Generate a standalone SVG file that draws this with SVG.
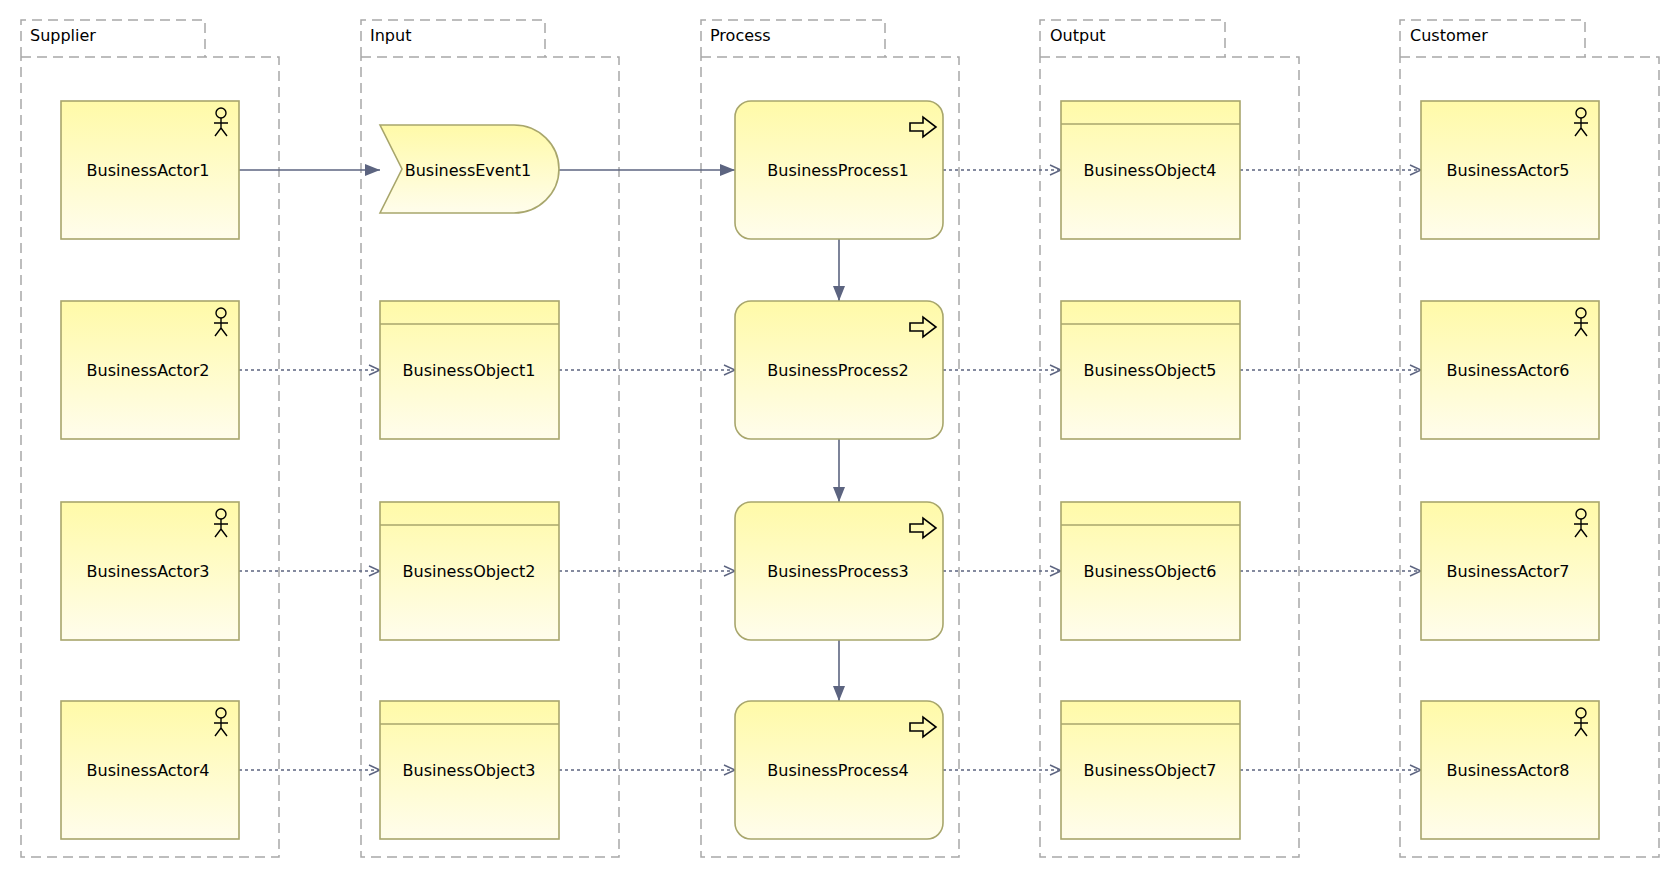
<svg xmlns="http://www.w3.org/2000/svg" width="1680" height="880" viewBox="0 0 1680 880">
<style>
.grp{fill:none;stroke:#a8a8a8;stroke-width:1.5;stroke-dasharray:10,6}
.n{fill:url(#g);stroke:#a8a66c;stroke-width:1.6}
.t{font-family:"Lucida Grande","DejaVu Sans",sans-serif;font-size:16px;fill:#000;text-anchor:middle;dominant-baseline:central}
.gl{font-family:"DejaVu Sans",sans-serif;font-size:16px;fill:#000}
.ic{fill:none;stroke:#000;stroke-width:1.4}
.s{fill:none;stroke:#5c6480;stroke-width:1.6;marker-end:url(#tri)}
.d{fill:none;stroke:#5c6480;stroke-width:1.4;stroke-dasharray:3,3;marker-end:url(#open)}
</style>
<defs>
<linearGradient id="g" x1="0" y1="0" x2="0" y2="1"><stop offset="0" stop-color="#fffaa8"/><stop offset="1" stop-color="#fffdec"/></linearGradient>
<marker id="tri" markerWidth="16" markerHeight="12" refX="15" refY="6" orient="auto" markerUnits="userSpaceOnUse"><path d="M0,0 L15,6 L0,12 Z" fill="#5c6480"/></marker>
<marker id="open" markerWidth="14" markerHeight="12" refX="12" refY="6" orient="auto" markerUnits="userSpaceOnUse"><path d="M1,1 L12,6 L1,11" fill="none" stroke="#5c6480" stroke-width="1.4"/></marker>
<g id="actoricon" class="ic"><circle cx="0" cy="0" r="5"/><path d="M0,5 V15 M-7,10 H7 M-6,23 L0,15 L6,23"/></g>
<g id="procicon" class="ic"><path d="M-27,-4 H-14 V-10 L-1,0 L-14,10 V4 H-27 Z" stroke-width="1.6"/></g>
</defs>
<g id="groups">
<g id="Supplier"><path class="grp" d="M21,57 V20 H205 V57 M21,57 H279 V857 H21 Z"/><text class="gl" x="30" y="41">Supplier</text></g>
<g id="Input"><path class="grp" d="M361,57 V20 H545 V57 M361,57 H619 V857 H361 Z"/><text class="gl" x="370" y="41">Input</text></g>
<g id="Process"><path class="grp" d="M701,57 V20 H885 V57 M701,57 H959 V857 H701 Z"/><text class="gl" x="710" y="41">Process</text></g>
<g id="Output"><path class="grp" d="M1040,57 V20 H1225 V57 M1040,57 H1299 V857 H1040 Z"/><text class="gl" x="1050" y="41">Output</text></g>
<g id="Customer"><path class="grp" d="M1400,57 V20 H1585 V57 M1400,57 H1659 V857 H1400 Z"/><text class="gl" x="1410" y="41">Customer</text></g>
</g>
<g id="connectors">
<path class="s" d="M239,170 H380"/>
<path class="s" d="M559,170 H735"/>
<path class="s" d="M839,239 V301"/>
<path class="s" d="M839,439 V502"/>
<path class="s" d="M839,640 V701"/>
<path class="d" d="M943,170 H1061"/><path class="d" d="M1240,170 H1421"/>
<path class="d" d="M239,370 H380"/><path class="d" d="M559,370 H735"/><path class="d" d="M943,370 H1061"/><path class="d" d="M1240,370 H1421"/>
<path class="d" d="M239,571 H380"/><path class="d" d="M559,571 H735"/><path class="d" d="M943,571 H1061"/><path class="d" d="M1240,571 H1421"/>
<path class="d" d="M239,770 H380"/><path class="d" d="M559,770 H735"/><path class="d" d="M943,770 H1061"/><path class="d" d="M1240,770 H1421"/>
</g>
<g id="BusinessActor1"><rect class="n" x="61" y="101" width="178" height="138"/><use href="#actoricon" x="221" y="113"/><text class="t" x="148" y="170">BusinessActor1</text></g>
<g id="BusinessActor2"><rect class="n" x="61" y="301" width="178" height="138"/><use href="#actoricon" x="221" y="313"/><text class="t" x="148" y="370">BusinessActor2</text></g>
<g id="BusinessActor3"><rect class="n" x="61" y="502" width="178" height="138"/><use href="#actoricon" x="221" y="514"/><text class="t" x="148" y="571">BusinessActor3</text></g>
<g id="BusinessActor4"><rect class="n" x="61" y="701" width="178" height="138"/><use href="#actoricon" x="221" y="713"/><text class="t" x="148" y="770">BusinessActor4</text></g>
<g id="BusinessEvent1"><path class="n" d="M380,125 H514 A45,44 0 0 1 514,213 H380 L402,169 Z"/><text class="t" x="468" y="170">BusinessEvent1</text></g>
<g id="BusinessObject1"><rect class="n" x="380" y="301" width="179" height="138"/><line x1="380" y1="324" x2="559" y2="324" stroke="#a8a66c" stroke-width="1.6"/><text class="t" x="469" y="370">BusinessObject1</text></g>
<g id="BusinessObject2"><rect class="n" x="380" y="502" width="179" height="138"/><line x1="380" y1="525" x2="559" y2="525" stroke="#a8a66c" stroke-width="1.6"/><text class="t" x="469" y="571">BusinessObject2</text></g>
<g id="BusinessObject3"><rect class="n" x="380" y="701" width="179" height="138"/><line x1="380" y1="724" x2="559" y2="724" stroke="#a8a66c" stroke-width="1.6"/><text class="t" x="469" y="770">BusinessObject3</text></g>
<g id="BusinessProcess1"><rect class="n" x="735" y="101" width="208" height="138" rx="16"/><use href="#procicon" x="937" y="127"/><text class="t" x="838" y="170">BusinessProcess1</text></g>
<g id="BusinessProcess2"><rect class="n" x="735" y="301" width="208" height="138" rx="16"/><use href="#procicon" x="937" y="327"/><text class="t" x="838" y="370">BusinessProcess2</text></g>
<g id="BusinessProcess3"><rect class="n" x="735" y="502" width="208" height="138" rx="16"/><use href="#procicon" x="937" y="528"/><text class="t" x="838" y="571">BusinessProcess3</text></g>
<g id="BusinessProcess4"><rect class="n" x="735" y="701" width="208" height="138" rx="16"/><use href="#procicon" x="937" y="727"/><text class="t" x="838" y="770">BusinessProcess4</text></g>
<g id="BusinessObject4"><rect class="n" x="1061" y="101" width="179" height="138"/><line x1="1061" y1="124" x2="1240" y2="124" stroke="#a8a66c" stroke-width="1.6"/><text class="t" x="1150" y="170">BusinessObject4</text></g>
<g id="BusinessObject5"><rect class="n" x="1061" y="301" width="179" height="138"/><line x1="1061" y1="324" x2="1240" y2="324" stroke="#a8a66c" stroke-width="1.6"/><text class="t" x="1150" y="370">BusinessObject5</text></g>
<g id="BusinessObject6"><rect class="n" x="1061" y="502" width="179" height="138"/><line x1="1061" y1="525" x2="1240" y2="525" stroke="#a8a66c" stroke-width="1.6"/><text class="t" x="1150" y="571">BusinessObject6</text></g>
<g id="BusinessObject7"><rect class="n" x="1061" y="701" width="179" height="138"/><line x1="1061" y1="724" x2="1240" y2="724" stroke="#a8a66c" stroke-width="1.6"/><text class="t" x="1150" y="770">BusinessObject7</text></g>
<g id="BusinessActor5"><rect class="n" x="1421" y="101" width="178" height="138"/><use href="#actoricon" x="1581" y="113"/><text class="t" x="1508" y="170">BusinessActor5</text></g>
<g id="BusinessActor6"><rect class="n" x="1421" y="301" width="178" height="138"/><use href="#actoricon" x="1581" y="313"/><text class="t" x="1508" y="370">BusinessActor6</text></g>
<g id="BusinessActor7"><rect class="n" x="1421" y="502" width="178" height="138"/><use href="#actoricon" x="1581" y="514"/><text class="t" x="1508" y="571">BusinessActor7</text></g>
<g id="BusinessActor8"><rect class="n" x="1421" y="701" width="178" height="138"/><use href="#actoricon" x="1581" y="713"/><text class="t" x="1508" y="770">BusinessActor8</text></g>
</svg>
